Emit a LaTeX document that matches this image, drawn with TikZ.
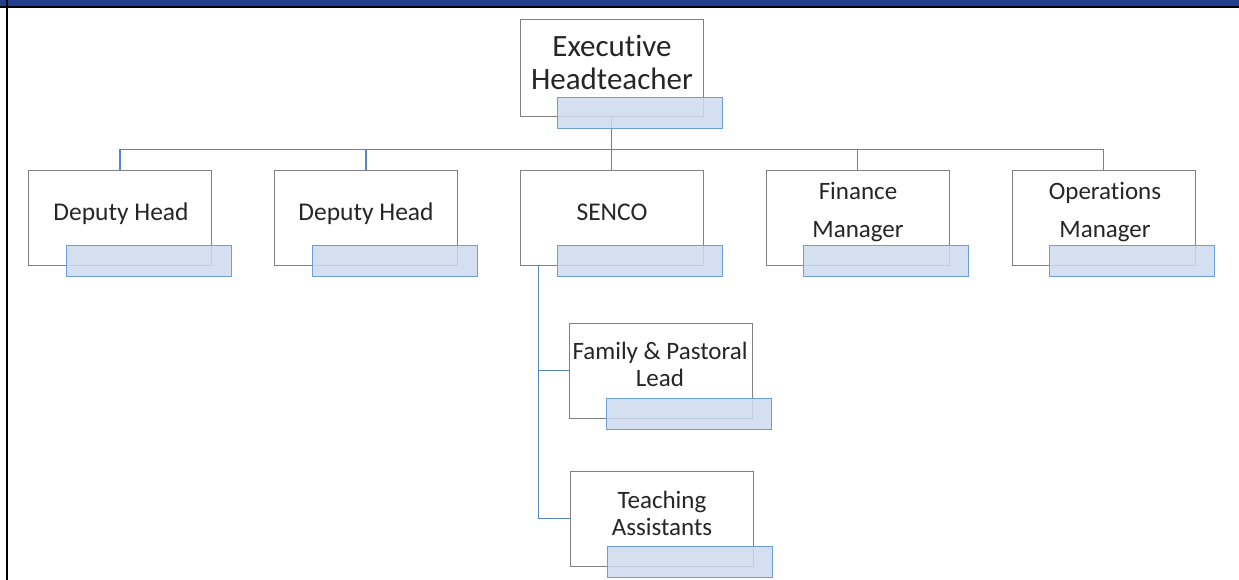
\documentclass[tikz,border=0pt]{standalone}
\usepackage{fontspec}
\setmainfont{Carlito}[Ligatures=NoCommon]
\usepackage{tikz}
\usetikzlibrary{calc}

\definecolor{headblue}{RGB}{35,62,142}
\definecolor{boxgray}{RGB}{128,128,128}
\definecolor{linkblue}{RGB}{84,134,196}
\definecolor{barline}{RGB}{108,158,218}
\definecolor{barfill}{RGB}{205,218,238}

\tikzset{
	post/.style={draw=boxgray, fill=white, line width=1pt, minimum width=183pt, minimum height=94pt, inner sep=0pt},
	title/.style={align=center, font=\fontsize{25.5}{27}\selectfont, text=black!85},
	namebar/.style={draw=barline, fill=barfill, fill opacity=0.85, line width=1.2pt, minimum width=165pt, minimum height=31pt, inner sep=0pt, anchor=north west},
	link/.style={draw=linkblue, line width=1.6pt}
}

\begin{document}
\begin{tikzpicture}[x=1pt, y=-1pt]
	\useasboundingbox (0,0) rectangle (1239,580);
	% frame
	\fill [headblue] (0,0) rectangle (1239,6.5);
	\draw [line width=2pt] (0,7) -- (1239,7);
	\draw [line width=2.5pt] (7,0) -- (7,580);

	% posts
	\node[post, minimum height=97pt] (exec) at (611.5,68.5) {};
	\node[post] (dh1)   at (120,218) {};
	\node[post] (dh2)   at (366,218) {};
	\node[post] (senco) at (611.5,218) {};
	\node[post] (fin)   at (857.5,218) {};
	\node[post] (ops)   at (1103.5,218) {};
	\node[post, minimum height=95pt] (fam) at (660.5,370.5) {};
	\node[post, minimum height=95pt] (ta)  at (661.5,518.5) {};

	% titles
	\node[title, font=\fontsize{31}{33}\selectfont] (exectxt) at (612,62) {Executive\\Headteacher};
	\node[title, anchor=base] (dh1txt) at (121,220) {Deputy Head};
	\node[title, anchor=base] (dh2txt) at (366,220) {Deputy Head};
	\node[title, anchor=base] (sencotxt) at (612,220) {SENCO};
	\node[title, font=\fontsize{25}{38}\selectfont] (fintxt) at (858,212) {Finance\\Manager};
	\node[title, font=\fontsize{25}{38}\selectfont] (opstxt) at (1105,212) {Operations\\Manager};
	\node[title, font=\fontsize{25}{27}\selectfont] (famtxt) at (660,364) {Family \& Pastoral\\Lead};
	\node[title, font=\fontsize{25}{27}\selectfont] (tatxt)  at (662,513) {Teaching\\Assistants};

	% reporting lines
	\coordinate (bus) at ([yshift=-32pt]exec.south);
	\draw[link] (exec.south) -- (bus);
	\draw[link] (bus -| dh1.north) -- (bus -| ops.north);
	\foreach \n in {dh1,dh2,senco,fin,ops}
		\draw[link] (bus -| \n.north) -- (\n.north);
	\coordinate (spine) at ([xshift=19pt]senco.south west);
	\draw[link] (spine) |- (fam.west);
	\draw[link] (spine) |- (ta.west);

	% name bars
	\foreach \n in {exec,dh1,dh2,senco,fin,ops,fam,ta}
		\node[namebar] (\n bar) at ([xshift=37.5pt,yshift=20.5pt]\n.south west) {};
\end{tikzpicture}
\end{document}
